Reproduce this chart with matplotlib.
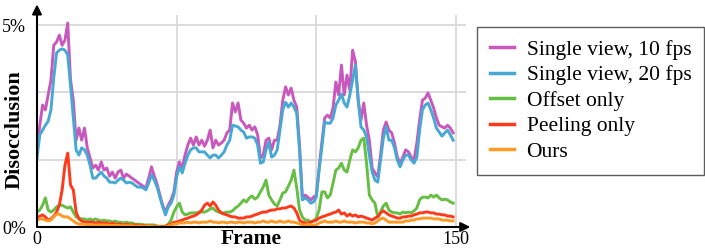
import numpy as np
import matplotlib
matplotlib.use('Agg')
import matplotlib.pyplot as plt

# disocclusion per frame, in percent (frames 0..149)
frames = np.arange(150)

single10 = [1.91, 2.52, 3.02, 2.90, 3.27, 3.64, 4.50, 4.58, 4.75, 4.50,
            4.63, 5.05, 3.64, 3.14, 2.15, 2.45, 2.15, 2.45, 1.96, 1.71,
            1.46, 1.53, 1.41, 1.61, 1.41, 1.46, 1.26, 1.36, 1.21, 1.36,
            1.41, 1.21, 1.31, 1.26, 1.21, 1.16, 1.11, 1.06, 1.01, 0.97,
            1.21, 1.49, 1.26, 1.06, 0.79, 0.54, 0.37, 0.54, 0.67, 0.87,
            1.36, 1.61, 1.46, 1.78, 2.03, 2.20, 2.03, 2.23, 2.03, 2.15,
            2.00, 2.15, 2.40, 1.96, 2.15, 2.03, 2.08, 2.15, 2.33, 2.40,
            3.07, 2.85, 3.07, 2.65, 2.57, 2.45, 2.52, 2.40, 2.48, 2.28,
            1.71, 1.78, 2.15, 2.20, 1.91, 2.15, 2.15, 2.52, 3.14, 3.47,
            3.27, 3.44, 3.14, 2.97, 2.03, 0.74, 0.79, 0.74, 0.67, 0.74,
            0.79, 1.46, 2.10, 2.70, 2.77, 2.70, 2.95, 3.59, 3.27, 4.01,
            3.27, 3.76, 3.39, 4.38, 4.10, 3.14, 2.65, 3.07, 2.52, 2.15,
            1.46, 1.34, 1.24, 1.78, 2.40, 2.60, 2.40, 2.33, 2.08, 1.73,
            1.58, 1.73, 1.91, 1.86, 1.73, 1.66, 2.08, 2.65, 3.14, 3.19,
            3.32, 3.14, 2.95, 2.70, 2.52, 2.48, 2.45, 2.52, 2.45, 2.33]
single20 = [1.71, 2.28, 2.40, 2.52, 2.62, 2.90, 3.69, 4.31, 4.38, 4.41,
            4.38, 4.26, 3.51, 2.70, 1.91, 1.78, 1.96, 1.91, 1.78, 1.53,
            1.21, 1.21, 1.29, 1.36, 1.26, 1.21, 1.11, 1.11, 1.09, 1.16,
            1.21, 1.16, 1.09, 1.11, 1.09, 1.04, 0.99, 0.99, 0.97, 0.92,
            1.09, 1.29, 1.16, 0.99, 0.74, 0.50, 0.30, 0.50, 0.59, 0.79,
            1.24, 1.49, 1.34, 1.58, 1.78, 1.91, 1.96, 1.96, 1.86, 1.86,
            1.86, 1.78, 1.71, 1.78, 1.78, 1.71, 1.78, 1.86, 2.03, 2.15,
            2.52, 2.50, 2.48, 2.40, 2.35, 2.20, 2.23, 2.23, 2.20, 2.03,
            1.58, 1.61, 1.91, 2.10, 1.73, 1.78, 1.91, 2.40, 2.90, 3.09,
            2.97, 3.07, 2.97, 2.82, 1.91, 0.67, 0.72, 0.67, 0.59, 0.62,
            0.74, 1.41, 1.98, 2.60, 2.57, 2.57, 2.70, 3.02, 3.14, 3.29,
            3.07, 2.97, 3.27, 3.64, 4.01, 3.14, 2.48, 2.40, 2.23, 1.78,
            1.36, 1.16, 1.11, 1.66, 2.20, 2.48, 2.15, 2.15, 1.96, 1.66,
            1.49, 1.66, 1.78, 1.78, 1.66, 1.58, 1.73, 2.40, 2.90, 3.02,
            3.07, 2.90, 2.70, 2.45, 2.35, 2.25, 2.33, 2.40, 2.28, 2.15]
offset = [0.37, 0.42, 0.54, 0.72, 0.42, 0.37, 0.42, 0.50, 0.54, 0.54,
          0.50, 0.47, 0.50, 0.37, 0.25, 0.22, 0.20, 0.20, 0.17, 0.20,
          0.17, 0.20, 0.17, 0.15, 0.17, 0.15, 0.15, 0.12, 0.15, 0.12,
          0.12, 0.10, 0.12, 0.10, 0.10, 0.07, 0.07, 0.07, 0.05, 0.05,
          0.05, 0.05, 0.05, 0.02, 0.02, 0.02, 0.02, 0.07, 0.17, 0.37,
          0.50, 0.59, 0.37, 0.30, 0.32, 0.35, 0.35, 0.35, 0.37, 0.37,
          0.37, 0.40, 0.45, 0.47, 0.40, 0.37, 0.35, 0.35, 0.37, 0.37,
          0.40, 0.47, 0.52, 0.59, 0.67, 0.62, 0.72, 0.77, 0.69, 0.74,
          0.87, 0.99, 1.16, 0.79, 0.67, 0.57, 0.52, 0.67, 0.84, 0.87,
          1.01, 1.16, 1.41, 0.97, 0.42, 0.25, 0.17, 0.17, 0.12, 0.15,
          0.22, 0.42, 0.87, 0.87, 0.72, 0.79, 1.09, 1.41, 1.46, 1.58,
          1.41, 1.36, 1.66, 1.91, 1.86, 1.96, 2.15, 2.20, 1.58, 0.79,
          0.67, 0.59, 0.25, 0.37, 0.52, 0.59, 0.42, 0.37, 0.35, 0.35,
          0.32, 0.37, 0.35, 0.37, 0.35, 0.40, 0.47, 0.67, 0.74, 0.74,
          0.72, 0.79, 0.74, 0.79, 0.72, 0.67, 0.69, 0.67, 0.62, 0.59]
peeling = [0.22, 0.27, 0.30, 0.25, 0.17, 0.20, 0.27, 0.37, 0.54, 0.92,
           1.53, 1.83, 1.04, 0.92, 0.37, 0.20, 0.15, 0.12, 0.12, 0.12,
           0.12, 0.10, 0.12, 0.10, 0.10, 0.10, 0.07, 0.10, 0.07, 0.07,
           0.07, 0.05, 0.07, 0.05, 0.05, 0.05, 0.05, 0.02, 0.05, 0.02,
           0.02, 0.02, 0.02, 0.02, 0.00, 0.00, 0.02, 0.05, 0.07, 0.12,
           0.12, 0.15, 0.17, 0.20, 0.22, 0.25, 0.27, 0.30, 0.35, 0.42,
           0.54, 0.59, 0.52, 0.62, 0.54, 0.42, 0.35, 0.32, 0.30, 0.27,
           0.25, 0.25, 0.22, 0.22, 0.22, 0.25, 0.25, 0.27, 0.30, 0.32,
           0.35, 0.37, 0.37, 0.40, 0.42, 0.42, 0.45, 0.45, 0.47, 0.47,
           0.50, 0.52, 0.47, 0.35, 0.17, 0.12, 0.10, 0.10, 0.12, 0.15,
           0.17, 0.22, 0.25, 0.27, 0.30, 0.32, 0.35, 0.37, 0.42, 0.32,
           0.35, 0.27, 0.32, 0.27, 0.30, 0.25, 0.27, 0.25, 0.22, 0.20,
           0.17, 0.22, 0.25, 0.35, 0.40, 0.35, 0.30, 0.27, 0.25, 0.22,
           0.22, 0.25, 0.25, 0.27, 0.27, 0.30, 0.32, 0.35, 0.35, 0.37,
           0.37, 0.35, 0.35, 0.32, 0.32, 0.30, 0.30, 0.27, 0.27, 0.25]
ours = [0.17, 0.20, 0.20, 0.17, 0.15, 0.17, 0.25, 0.32, 0.32, 0.27,
        0.25, 0.25, 0.20, 0.15, 0.10, 0.07, 0.07, 0.07, 0.05, 0.05,
        0.05, 0.05, 0.05, 0.05, 0.05, 0.05, 0.04, 0.04, 0.04, 0.04,
        0.03, 0.03, 0.03, 0.03, 0.03, 0.02, 0.02, 0.02, 0.02, 0.02,
        0.02, 0.02, 0.01, 0.01, 0.00, 0.00, 0.00, 0.02, 0.05, 0.07,
        0.08, 0.10, 0.10, 0.10, 0.12, 0.10, 0.12, 0.12, 0.10, 0.12,
        0.12, 0.12, 0.15, 0.12, 0.12, 0.10, 0.12, 0.12, 0.10, 0.12,
        0.12, 0.10, 0.12, 0.12, 0.10, 0.12, 0.12, 0.12, 0.10, 0.12,
        0.12, 0.15, 0.12, 0.12, 0.15, 0.12, 0.12, 0.15, 0.12, 0.12,
        0.15, 0.12, 0.12, 0.10, 0.08, 0.05, 0.05, 0.07, 0.05, 0.05,
        0.05, 0.10, 0.12, 0.15, 0.12, 0.12, 0.12, 0.15, 0.12, 0.12,
        0.15, 0.12, 0.12, 0.12, 0.10, 0.12, 0.12, 0.12, 0.10, 0.10,
        0.08, 0.10, 0.15, 0.20, 0.22, 0.17, 0.12, 0.12, 0.12, 0.12,
        0.12, 0.12, 0.15, 0.15, 0.17, 0.17, 0.20, 0.20, 0.22, 0.22,
        0.22, 0.22, 0.20, 0.20, 0.20, 0.17, 0.17, 0.17, 0.15, 0.15]

labels = ['Single view, 10 fps', 'Single view, 20 fps', 'Offset only', 'Peeling only', 'Ours']
colors = ['#c858bc', '#48a8d4', '#66be42', '#ff3a1c', '#ff9a26']

plt.rcParams['font.family'] = ['Liberation Serif', 'DejaVu Serif']

fig = plt.figure(figsize=(7.05, 2.49), dpi=100)
ax = fig.add_axes([37 / 705, 1 - 227 / 249, (466 - 37) / 705, (227 - 15) / 249])

for vals, lab, col in zip([single10, single20, offset, peeling, ours], labels, colors):
    ax.plot(frames, vals, color=col, lw=2.1, label=lab, solid_joinstyle='round')

ax.set_xlim(0, 153.6)
ax.set_ylim(0, 5.25)

# light grid
for g in [5 / 3, 10 / 3, 5]:
    ax.axhline(g, color='#d9d9d9', lw=1.3, zorder=0)
for g in [50, 100, 150]:
    ax.axvline(g, color='#d9d9d9', lw=1.3, zorder=0)

# arrow axes
for s in ax.spines.values():
    s.set_visible(False)
ax.annotate('', xy=(0, 1.05), xytext=(0, 0), xycoords='axes fraction',
            arrowprops=dict(arrowstyle='-|>', color='k', lw=1.5, mutation_scale=14,
                            shrinkA=0, shrinkB=0))
ax.annotate('', xy=(1.01, 0), xytext=(0, 0), xycoords='axes fraction',
            arrowprops=dict(arrowstyle='-|>', color='k', lw=1.5, mutation_scale=14,
                            shrinkA=0, shrinkB=0))

ax.set_xticks([0, 150])
ax.set_xticklabels(['0', '150'], fontsize=13)
ax.set_yticks([0, 5])
ax.set_yticklabels(['0%', '5%'], fontsize=13)
ax.tick_params(axis='y', length=0, pad=8)
ax.tick_params(axis='x', length=0, pad=3)
ax.set_xlabel('Frame', fontsize=15.5, fontweight='bold')
ax.xaxis.set_label_coords(0.5, -0.008)
ax.set_ylabel('Disocclusion', fontsize=16, fontweight='bold')
ax.yaxis.set_label_coords(-0.028, 0.46)

leg = fig.legend(loc='upper left', bbox_to_anchor=(477 / 705, 1 - 27 / 249), fontsize=15.5,
                 frameon=True, fancybox=False, edgecolor='#333333', handlelength=1.1,
                 handletextpad=0.6, labelspacing=0.25, borderpad=0.6, borderaxespad=0)
leg.get_frame().set_linewidth(1.0)
for line in leg.get_lines():
    line.set_linewidth(2.5)

fig.savefig('out.png', dpi=100)
